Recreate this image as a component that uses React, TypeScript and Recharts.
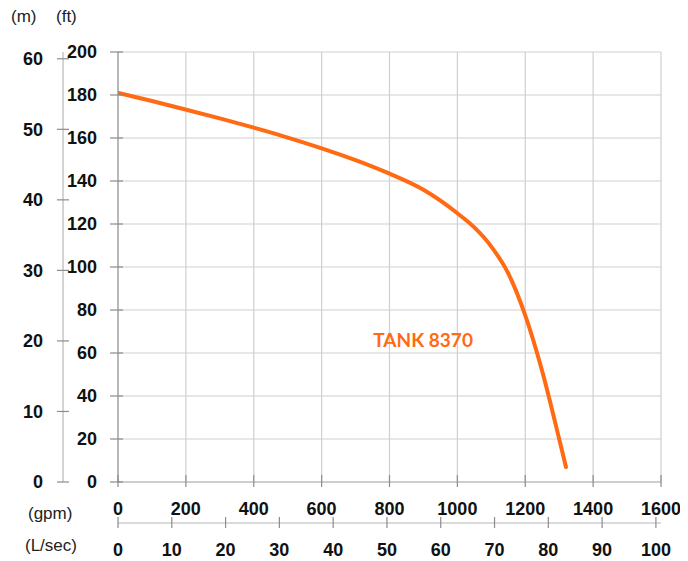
import { LineChart, Line, XAxis, YAxis, CartesianGrid, ReferenceDot } from 'recharts'

// pump curve: flow in gpm, head in ft
const flowGpm = [0, 100, 200, 300, 400, 500, 600, 700, 800, 900, 1000, 1050, 1100, 1150, 1200, 1250, 1300, 1320]
const headFt = [181, 177.2, 173.2, 169.1, 164.8, 160.2, 155.2, 149.7, 143.4, 135.9, 125, 118.4, 109.5, 97, 77.5, 51.5, 20, 7]

const gpmTicks = [0, 200, 400, 600, 800, 1000, 1200, 1400, 1600]
const ftTicks = [0, 20, 40, 60, 80, 100, 120, 140, 160, 180, 200]
const mTicks = [0, 10, 20, 30, 40, 50, 60]
const lsecTicks = [0, 10, 20, 30, 40, 50, 60, 70, 80, 90, 100]

const originFlow = [0]
const originHead = [0]

const FT_PER_M = 3.2808
const GPM_PER_LSEC = 15.85

const curveData = flowGpm.map((gpm, i) => ({
  gpm,
  head: headFt[i],
  lsec: gpm / GPM_PER_LSEC,
  headM: headFt[i] / FT_PER_M
}))
const originData = originFlow.map((gpm, i) => ({ gpm, head: originHead[i] }))

const tickFont = {
  fontFamily: '"Liberation Sans", Arial, sans-serif',
  fontSize: 18,
  fontWeight: 700,
  fill: '#111111'
}
const unitStyle: React.CSSProperties = {
  position: 'absolute',
  fontFamily: '"Liberation Sans", Arial, sans-serif',
  fontSize: 17,
  lineHeight: '17px',
  color: '#222222',
  whiteSpace: 'nowrap'
}
const tickStroke = '#8c8c8c'

function LeftTick(props: any, gap: number, inside: number, outside: number) {
  const { x, y, payload } = props
  return (
    <g>
      <line x1={x - outside} x2={x + inside} y1={y} y2={y} stroke={tickStroke} strokeWidth={1.2} />
      <text x={x - gap} y={y} dy="0.36em" textAnchor="end" {...tickFont}>{payload.value}</text>
    </g>
  )
}

function BottomTick(props: any, up: number, down: number) {
  const { x, y, payload } = props
  return (
    <g>
      <line x1={x} x2={x} y1={y - up} y2={y + down} stroke={tickStroke} strokeWidth={1.2} />
      <text x={x} y={y + 27} dy="0.36em" textAnchor="middle" {...tickFont}>{payload.value}</text>
    </g>
  )
}

export default function App() {
  return (
    <div style={{ position: 'relative', width: 680, height: 553 }}>
      <LineChart width={680} height={553} data={curveData} margin={{ top: 44, right: 27, bottom: 0, left: 0 }}>
        <CartesianGrid xAxisId="gpm" yAxisId="ft" stroke="#cfcfcf" strokeWidth={1.2} />
        <XAxis
          xAxisId="gpm"
          dataKey="gpm"
          type="number"
          domain={[0, 1600]}
          ticks={gpmTicks}
          interval={0}
          height={41}
          tickSize={0}
          tickMargin={0}
          tickLine={false}
          axisLine={{ stroke: '#b5b5b5' }}
          tick={(p: any) => BottomTick(p, 7, 5)}
          allowDataOverflow
        />
        <XAxis
          xAxisId="lsec"
          dataKey="lsec"
          type="number"
          domain={[0, 1600 / GPM_PER_LSEC]}
          ticks={lsecTicks}
          interval={0}
          height={38}
          tickSize={0}
          tickMargin={0}
          tickLine={false}
          axisLine={{ stroke: '#b5b5b5' }}
          tick={(p: any) => BottomTick(p, 6, 5)}
          allowDataOverflow
        />
        <YAxis
          yAxisId="m"
          type="number"
          domain={[0, 200 / FT_PER_M]}
          ticks={mTicks}
          interval={0}
          width={55}
          tickSize={0}
          tickMargin={0}
          tickLine={false}
          axisLine={{ stroke: '#a8a8a8' }}
          tick={(p: any) => LeftTick(p, 20, 6, 6)}
          allowDataOverflow
        />
        <YAxis
          yAxisId="ft"
          type="number"
          domain={[0, 200]}
          ticks={ftTicks}
          interval={0}
          width={55}
          tickSize={0}
          tickMargin={0}
          tickLine={false}
          axisLine={{ stroke: '#8f8f8f' }}
          tick={(p: any) => LeftTick(p, 21, 5, 8)}
          allowDataOverflow
        />
        {/* same curve in L/sec and m, kept invisible so the metric axes get ticks */}
        <Line
          xAxisId="lsec"
          yAxisId="m"
          dataKey="headM"
          type="monotone"
          stroke="none"
          dot={false}
          activeDot={false}
          isAnimationActive={false}
        />
        <Line
          xAxisId="gpm"
          yAxisId="ft"
          dataKey="head"
          type="monotone"
          stroke="#FF6A13"
          strokeWidth={4}
          strokeLinecap="round"
          dot={false}
          isAnimationActive={false}
        />
        <Line
          xAxisId="gpm"
          yAxisId="ft"
          data={originData}
          dataKey="head"
          stroke="#1f2a80"
          dot={{ r: 1.3, fill: '#1f2a80', stroke: 'none' }}
          isAnimationActive={false}
        />
        <ReferenceDot
          xAxisId="gpm"
          yAxisId="ft"
          x={899}
          y={65.8}
          r={0}
          label={{
            value: 'TANK 8370',
            position: 'center',
            fill: '#FF6A13',
            fontSize: 19,
            fontWeight: 700,
            fontFamily: 'Lato, "Open Sans", sans-serif'
          }}
        />
      </LineChart>
      <span style={{ ...unitStyle, left: 3, top: 0 }}>(m)</span>
      <span style={{ ...unitStyle, left: 48, top: 0 }}>(ft)</span>
      <span style={{ ...unitStyle, left: 20, top: 497 }}>(gpm)</span>
      <span style={{ ...unitStyle, left: 17, top: 529 }}>(L/sec)</span>
    </div>
  )
}
